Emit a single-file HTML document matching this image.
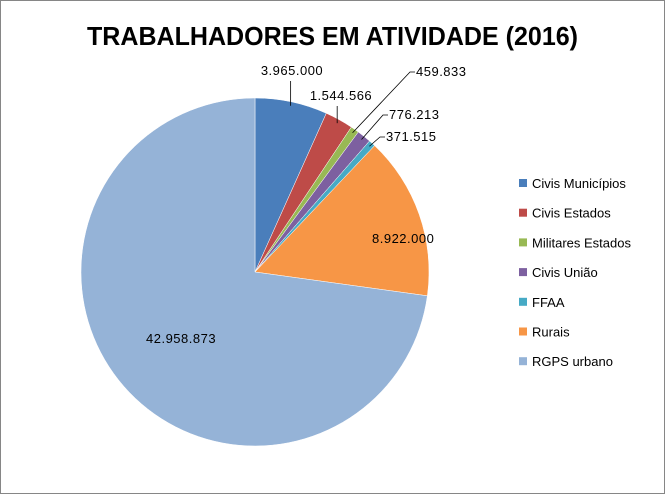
<!DOCTYPE html>
<html><head><meta charset="utf-8"><style>
body{margin:0;background:#fff;}
svg{display:block;font-family:"Liberation Sans",sans-serif;}
</style></head><body>
<svg width="665" height="494" viewBox="0 0 665 494">
<rect x="0.5" y="0.5" width="664" height="493" fill="#fff" stroke="#868686"/>
<text x="87" y="45" textLength="491" lengthAdjust="spacingAndGlyphs" font-size="26" font-weight="bold" fill="#000">TRABALHADORES EM ATIVIDADE (2016)</text>
<g id="slices"></g><g id="labels"></g><g id="legend"></g>
</svg>
<script>
const categories=["Civis Municípios","Civis Estados","Militares Estados","Civis União","FFAA","Rurais","RGPS urbano"];
const values=[3965000,1544566,459833,776213,371515,8922000,42958873];
const valueLabels=["3.965.000","1.544.566","459.833","776.213","371.515","8.922.000","42.958.873"];
const colors=["#4a7ebb","#be4b48","#98b954","#7d60a0","#46aac5","#f79646","#95b3d7"];
// label anchor [x, baseline y, anchor]
const labelPos=[[292,75,'middle'],[341,100,'middle'],[416,76,'start'],[389,119,'start'],[386,141,'start'],[372,243,'start'],[146,343,'start']];
const leaderMode=[1,1,2,2,2,0,0];
const NS="http://www.w3.org/2000/svg",cx=255,cy=272,r=174;
const total=values.reduce((a,b)=>a+b,0);
function pt(a,rr){return [cx+rr*Math.sin(a),cy-rr*Math.cos(a)];}
const gs=document.getElementById('slices'),gl=document.getElementById('labels'),gg=document.getElementById('legend');
let acc=0;
values.forEach((v,i)=>{
 const a0=acc/total*2*Math.PI;acc+=v;const a1=acc/total*2*Math.PI;
 const p0=pt(a0,r),p1=pt(a1,r);
 const p=document.createElementNS(NS,'path');
 p.setAttribute('d',`M${cx},${cy}L${p0[0]},${p0[1]}A${r},${r} 0 ${a1-a0>Math.PI?1:0} 1 ${p1[0]},${p1[1]}Z`);
 p.setAttribute('fill',colors[i]);p.setAttribute('stroke','#fff');p.setAttribute('stroke-width','0.5');
 
 
 gs.appendChild(p);
 const lp=labelPos[i];
 const m=pt((a0+a1)/2,r-4);
 if(leaderMode[i]){
  const ln=document.createElementNS(NS,'polyline');
  let pts;
  if(leaderMode[i]==1) pts=`${m[0]},${m[1]} ${m[0]},${lp[1]+6}`;
  else pts=`${m[0]},${m[1]} ${lp[0]-6},${lp[1]-4} ${lp[0]-1},${lp[1]-4}`;
  ln.setAttribute('points',pts);ln.setAttribute('fill','none');ln.setAttribute('stroke','#000');ln.setAttribute('stroke-width','0.8');
  
  
  gl.appendChild(ln);
 }
 const t=document.createElementNS(NS,'text');
 t.setAttribute('x',lp[0]);t.setAttribute('y',lp[1]);
 t.setAttribute('text-anchor',lp[2]);t.setAttribute('font-size','13');
 t.setAttribute('letter-spacing','0.5');
 t.textContent=valueLabels[i];
 
 
 gl.appendChild(t);
 const ly=183+i*29.7;
 const sq=document.createElementNS(NS,'rect');
 sq.setAttribute('x',519);sq.setAttribute('y',ly-4);sq.setAttribute('width',8);sq.setAttribute('height',8);sq.setAttribute('fill',colors[i]);
 
 
 gg.appendChild(sq);
 const lt=document.createElementNS(NS,'text');
 lt.setAttribute('x',532);lt.setAttribute('y',ly+5);lt.setAttribute('font-size','13');lt.textContent=categories[i];
 
 
 gg.appendChild(lt);
});
</script>
</body></html>
